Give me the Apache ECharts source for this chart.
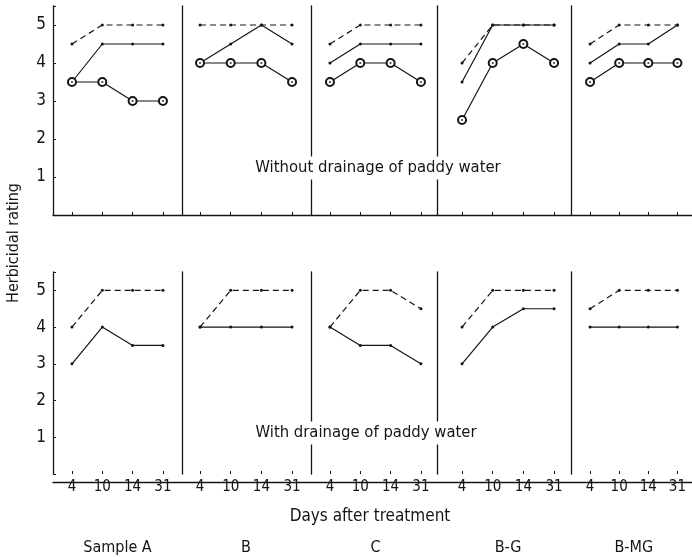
<!DOCTYPE html>
<html>
<head>
<meta charset="utf-8">
<script src="https://cdn.jsdelivr.net/npm/echarts@6/dist/echarts.min.js"></script>
<style>
html,body{margin:0;padding:0;background:#fff;}
#chart{width:692px;height:557px;}
</style>
</head>
<body>
<div id="chart"></div>
<script>
// ---- data ----
const days = ['4', '10', '14', '31'];
const samples = ['Sample A', 'B', 'C', 'B-G', 'B-MG'];
const yTicks = ['1', '2', '3', '4', '5'];
// Without drainage of paddy water (top row), one array per sample
const withoutDashed = [[4.5, 5, 5, 5], [5, 5, 5, 5], [4.5, 5, 5, 5], [4, 5, 5, 5], [4.5, 5, 5, 5]];
const withoutSolid  = [[3.5, 4.5, 4.5, 4.5], [4, 4.5, 5, 4.5], [4, 4.5, 4.5, 4.5], [3.5, 5, 5, 5], [4, 4.5, 4.5, 5]];
const withoutCircle = [[3.5, 3.5, 3, 3], [4, 4, 4, 3.5], [3.5, 4, 4, 3.5], [2.5, 4, 4.5, 4], [3.5, 4, 4, 4]];
// With drainage of paddy water (bottom row)
const withDashed = [[4, 5, 5, 5], [4, 5, 5, 5], [4, 5, 5, 4.5], [4, 5, 5, 5], [4.5, 5, 5, 5]];
const withSolid  = [[3, 4, 3.5, 3.5], [4, 4, 4, 4], [4, 3.5, 3.5, 3], [3, 4, 4.5, 4.5], [4, 4, 4, 4]];

// ---- layout ----
const FONT = "'Liberation Sans Narrow', 'DejaVu Sans Condensed', 'Liberation Sans', sans-serif";
const INK = '#151515';
const panelLeft = [56.8, 184.7, 314.8, 446.7, 575.5];
const panelWidth = [121.3, 122.7, 121.3, 122.7, 124];
const separatorX = [53, 182, 311, 437.5, 571];
const rowTop = [6, 272];
const rowHeight = [209, 210];

const grid = [], xAxis = [], yAxis = [], series = [];

function lineSeries(idx, data, dashed) {
  return {
    type: 'line', xAxisIndex: idx, yAxisIndex: idx, data: data,
    symbol: 'circle', symbolSize: 3, showSymbol: true,
    itemStyle: { color: INK },
    lineStyle: { color: INK, width: 1.2, type: dashed ? [6, 4] : 'solid' },
    z: dashed ? 2 : 3, animation: false, silent: true
  };
}

for (let r = 0; r < 2; r++) {
  for (let p = 0; p < 5; p++) {
    const idx = r * 5 + p;
    grid.push({ left: panelLeft[p], width: panelWidth[p], top: rowTop[r], height: rowHeight[r] });
    xAxis.push({
      gridIndex: idx, type: 'category', data: days, boundaryGap: true,
      axisLine: { show: false },
      axisTick: { show: true, inside: true, alignWithLabel: true, length: 3, lineStyle: { color: INK, width: 1 } },
      axisLabel: { show: r === 1, color: INK, fontFamily: FONT, fontSize: 15, margin: 6 },
      splitLine: { show: false },
      name: r === 1 ? samples[p] : '', nameLocation: 'middle', nameGap: 66,
      nameTextStyle: { color: INK, fontFamily: FONT, fontSize: 16 }
    });
    yAxis.push({
      gridIndex: idx, type: 'value', min: 0, max: 5.5, interval: 1,
      offset: panelLeft[p] - separatorX[p],
      axisLine: { show: true, lineStyle: { color: INK, width: 1.3 } },
      axisTick: { show: p === 0, inside: true, length: 3, lineStyle: { color: INK } },
      axisLabel: {
        show: p === 0, color: INK, fontFamily: FONT, fontSize: 17, margin: 7,
        formatter: v => (v >= 1 && v <= 5 && Number.isInteger(v)) ? yTicks[v - 1] : ''
      },
      splitLine: { show: false }
    });
    if (r === 0) {
      series.push(lineSeries(idx, withoutDashed[p], true));
      series.push(lineSeries(idx, withoutSolid[p], false));
      const c = lineSeries(idx, withoutCircle[p], false);
      c.symbol = 'emptyCircle'; c.symbolSize = 8;
      c.itemStyle = { color: INK, borderColor: INK, borderWidth: 1.1 };
      c.z = 4;
      series.push(c);
      series.push({
        type: 'scatter', xAxisIndex: idx, yAxisIndex: idx, data: withoutCircle[p],
        symbol: 'circle', symbolSize: 2.2, itemStyle: { color: INK }, z: 5,
        animation: false, silent: true
      });
    } else {
      series.push(lineSeries(idx, withDashed[p], true));
      series.push(lineSeries(idx, withSolid[p], false));
    }
  }
}
// continuous baseline for each row
for (let r = 0; r < 2; r++) {
  const idx = 10 + r;
  grid.push({ left: 53, right: 0, top: rowTop[r], height: rowHeight[r] });
  xAxis.push({ gridIndex: idx, type: 'value', min: 0, max: 1,
    axisLine: { show: true, lineStyle: { color: INK, width: 1.3 } },
    axisTick: { show: false }, axisLabel: { show: false }, splitLine: { show: false } });
  yAxis.push({ gridIndex: idx, type: 'value', show: false });
}

const chart = echarts.init(document.getElementById('chart'), null, { renderer: 'canvas' });
chart.setOption({
  backgroundColor: '#fff',
  animation: false,
  grid, xAxis, yAxis, series,
  graphic: [
    { type: 'text', z: 100, style: { text: 'Without drainage of paddy water', x: 378, y: 168,
        align: 'center', verticalAlign: 'middle', fill: INK, font: '16.5px ' + FONT,
        backgroundColor: '#fff', padding: [3, 2] } },
    { type: 'text', z: 100, style: { text: 'With drainage of paddy water', x: 366, y: 433,
        align: 'center', verticalAlign: 'middle', fill: INK, font: '16.5px ' + FONT,
        backgroundColor: '#fff', padding: [3, 2] } },
    { type: 'text', z: 100, style: { text: 'Days after treatment', x: 370, y: 517,
        align: 'center', verticalAlign: 'middle', fill: INK, font: '17px ' + FONT } },
    { type: 'text', z: 100, x: 14, y: 243, rotation: Math.PI / 2,
      style: { text: 'Herbicidal rating', x: 0, y: 0,
        align: 'center', verticalAlign: 'middle', fill: INK, font: '16px ' + FONT } }
  ]
});
</script>
</body>
</html>
